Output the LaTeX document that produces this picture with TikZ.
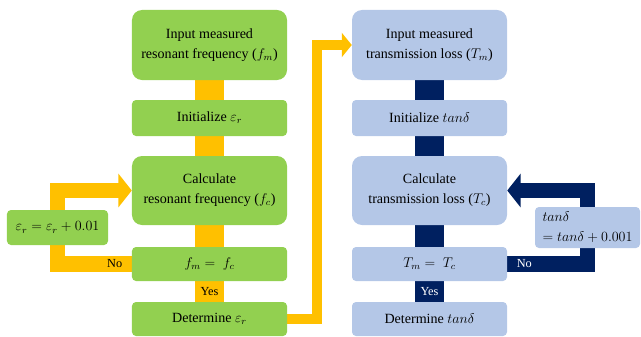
\documentclass[tikz,border=0pt]{standalone}
\usepackage{fontspec}
\setmainfont{Liberation Serif}
\usetikzlibrary{arrows.meta,backgrounds}
\definecolor{boxgreen}{HTML}{92D050}
\definecolor{boxblue}{HTML}{B4C7E7}
\definecolor{flowyellow}{HTML}{FFC000}
\definecolor{flownavy}{HTML}{002060}
\begin{document}
\begin{tikzpicture}[x=0.03cm,y=-0.03cm,font=\fontsize{12}{17}\selectfont,line join=miter,
	bigbox/.style={rounded corners=0.3cm,minimum width=4.65cm,align=center,inner sep=2pt},
	smallbox/.style={rounded corners=0.12cm,minimum width=4.65cm,align=center,inner sep=2pt},
	fbar/.style={draw=flowyellow,line width=0.87cm},
	tbar/.style={draw=flownavy,line width=0.87cm},
	loophead/.style={-{Triangle[width=0.99cm,length=0.4cm]}},
	floop/.style={draw=flowyellow,line width=0.47cm,loophead},
	tloop/.style={draw=flownavy,line width=0.47cm,loophead},
	lbl/.style={font=\fontsize{10.5}{12}\selectfont,inner sep=1.5pt}]
	\useasboundingbox (0,0) rectangle (641,337);
	% resonant frequency -> permittivity
	\node[bigbox,fill=boxgreen,minimum height=2.1cm] (fin) at (209.5,45) {Input measured\\resonant frequency ($f_m$)};
	\node[smallbox,fill=boxgreen,minimum height=1.08cm] (fini) at (209.5,118) {Initialize $\varepsilon_r$};
	\node[bigbox,fill=boxgreen,minimum height=2.07cm] (fcalc) at (209.5,190.5) {Calculate\\resonant frequency ($f_c$)};
	\node[smallbox,fill=boxgreen,minimum height=1.02cm] (fcheck) at (209.5,264) {$f_m =\ f_c$};
	\node[smallbox,fill=boxgreen,minimum height=1.02cm] (fdet) at (209.5,319) {Determine $\varepsilon_r$};
	\node[smallbox,fill=boxgreen,minimum width=3.03cm,minimum height=1.05cm] (fupd) at (57.5,227.5) {$\varepsilon_r = \varepsilon_r + 0.01$};
	% transmission loss -> loss tangent
	\node[bigbox,fill=boxblue,minimum height=2.1cm] (tin) at (429.5,45) {Input measured\\transmission loss ($T_m$)};
	\node[smallbox,fill=boxblue,minimum height=1.08cm] (tini) at (429.5,118) {Initialize $tan\delta$};
	\node[bigbox,fill=boxblue,minimum height=2.07cm] (tcalc) at (429.5,190.5) {Calculate\\transmission loss ($T_c$)};
	\node[smallbox,fill=boxblue,minimum height=1.02cm] (tcheck) at (429.5,264) {$T_m =\ T_c$};
	\node[smallbox,fill=boxblue,minimum height=1.02cm] (tdet) at (429.5,319) {Determine $tan\delta$};
	\node[smallbox,fill=boxblue,minimum width=3.15cm,minimum height=1.23cm,align=left] (tupd) at (587.5,227.5) {$tan\delta$\\$= tan\delta + 0.001$};
	\begin{scope}[on background layer]
		\draw[fbar] (fin.south) -- (fini.north);
		\draw[fbar] (fini.south) -- (fcalc.north);
		\draw[fbar] (fcalc.south) -- (fcheck.north);
		\draw[fbar] (fcheck.south) -- node[lbl]{Yes} (fdet.north);
		\draw[floop] (fcheck.west) node[lbl,anchor=east]{No} -| (fupd.center) |- (fcalc.west);
		\draw[tbar] (tin.south) -- (tini.north);
		\draw[tbar] (tini.south) -- (tcalc.north);
		\draw[tbar] (tcalc.south) -- (tcheck.north);
		\draw[tbar] (tcheck.south) -- node[lbl,text=white]{Yes} (tdet.north);
		\draw[tloop] (tcheck.east) node[lbl,anchor=west,text=white]{No} -| (tupd.center) |- (tcalc.east);
		% hand over to the second column
		\draw[draw=flowyellow,line width=0.3cm,-{Triangle[width=0.72cm,length=0.3cm]}] (fdet.east) -- ++(30,0) |- (tin.west);
	\end{scope}
\end{tikzpicture}
\end{document}
